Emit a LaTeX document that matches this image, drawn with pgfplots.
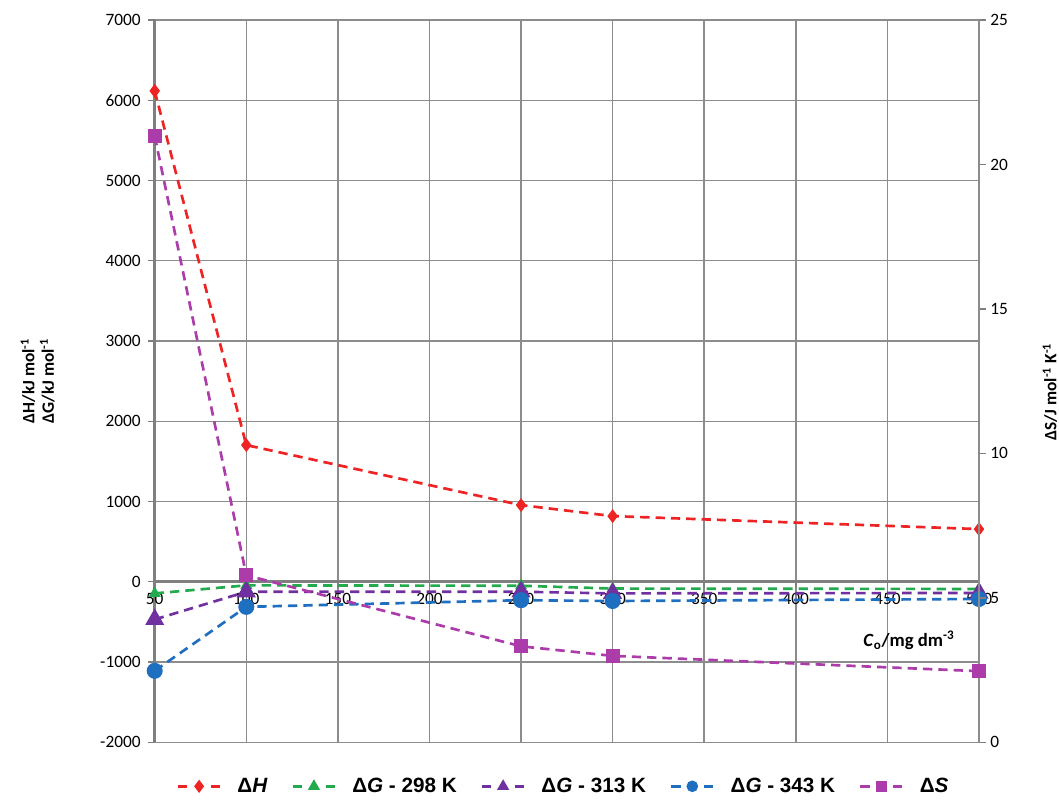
\documentclass[border=0pt]{standalone}
\usepackage{pgfplots}
\pgfplotsset{compat=1.18}
\usepackage{fontspec}
\setmainfont{Carlito}
\newfontfamily\legfont{Liberation Sans}
\definecolor{cH}{HTML}{EE2424}
\definecolor{cG1}{HTML}{22AA4C}
\definecolor{cG2}{HTML}{7030A0}
\definecolor{cG3}{HTML}{1F6FC0}
\definecolor{cS}{HTML}{AC3CAA}
\definecolor{gridgray}{HTML}{8C8C8C}
\definecolor{axgray}{HTML}{7F7F7F}
\pgfplotsset{
  ser/.style={line width=2pt, dash pattern=on 7pt off 4.5pt, mark options={solid}},
}
\begin{document}
\begin{tikzpicture}
\useasboundingbox (-116pt,-43.5pt) rectangle (678pt,556.5pt);
\begin{axis}[
  scale only axis, width=618pt, height=541.5pt,
  xmin=50, xmax=500, ymin=-2000, ymax=7000,
  axis x line*=middle, axis y line*=left,
  hide obscured x ticks=false,
  xtick={50,100,...,500}, ytick={-2000,-1000,...,7000},
  grid=major, grid style={color=gridgray, line width=1.1pt},
  axis line style={color=axgray, line width=2.2pt},
  tick style={color=axgray, line width=1.1pt}, tick align=outside, major tick length=5pt,
  /pgf/number format/assume math mode=true,
  /pgf/number format/1000 sep={},
  ticklabel style={font=\fontsize{13}{15}\selectfont},
  yticklabel style={xshift=-2pt},
  ylabel={Δ\kern0.5pt H/kJ mol\textsuperscript{-1}\\ΔG/kJ mol\textsuperscript{-1}},
  ylabel style={align=center, font=\bfseries\fontsize{13}{14.5}\selectfont, at={(axis description cs:-0.142,0.5)}, anchor=center},
  xlabel={\textit{C}\textsubscript{o}/mg dm\textsuperscript{-3}},
  xlabel style={font=\bfseries\fontsize{14}{16}\selectfont, at={(axis description cs:0.915,0.141)}, anchor=center},
  legend columns=5,
  legend style={draw=none, at={(axis description cs:0.4965,-0.061)}, anchor=center,
    font=\legfont\bfseries\fontsize{15.5}{17}\selectfont,
    /tikz/every even column/.append style={column sep=16pt},
    /tikz/every odd column/.append style={column sep=10pt}},
  legend cell align=left,
  legend image code/.code={
    \draw[#1, solid] (0pt,0pt) -- (7pt,0pt);
    \draw[#1, solid] (24.5pt,0pt) -- (31.5pt,0pt);
    \draw[#1, mark size=3.3pt] plot coordinates {(15.75pt,0pt)};
  },
]
\addplot[ser, color=cH, mark=diamond*, mark size=3.6pt] coordinates {(50,6117) (100,1703) (250,955) (300,818) (500,656)};
\addlegendentry{Δ\textit{H}}
\addplot[ser, color=cG1, mark=triangle*, mark size=3.2pt] coordinates {(50,-145) (100,-45) (250,-50) (300,-85) (500,-90)};
\addlegendentry{Δ\textit{G} - 298 K}
\addplot[ser, color=cG2, mark=triangle*, mark size=6.3pt] coordinates {(50,-470) (100,-125) (250,-125) (300,-145) (500,-140)};
\addlegendentry{Δ\textit{G} - 313 K}
\addplot[ser, color=cG3, mark=*, mark size=5pt] coordinates {(50,-1110) (100,-313) (250,-230) (300,-240) (500,-215)};
\addlegendentry{Δ\textit{G} - 343 K}
\addlegendimage{ser, color=cS, mark=square*, mark size=4.2pt}
\addlegendentry{Δ\textit{S}}
\end{axis}
\begin{axis}[
  scale only axis, width=618pt, height=541.5pt,
  xmin=50, xmax=500, ymin=0, ymax=25,
  axis x line=none, axis y line*=right,
  ytick={0,5,...,25},
  axis line style={color=gridgray, line width=1.1pt},
  tick style={color=axgray, line width=1.1pt}, tick align=outside, major tick length=5pt,
  /pgf/number format/assume math mode=true,
  ticklabel style={font=\fontsize{13}{15}\selectfont},
  ylabel={ΔS/J mol\textsuperscript{-1} K\textsuperscript{-1}},
  ylabel style={font=\bfseries\fontsize{13}{15}\selectfont, at={(axis description cs:1.086,0.485)}, anchor=center},
]
\addplot[ser, color=cS, mark=square*, mark size=4.2pt] coordinates {(50,20.98) (100,5.78) (250,3.32) (300,2.99) (500,2.46)};
\end{axis}
\end{tikzpicture}
\end{document}
